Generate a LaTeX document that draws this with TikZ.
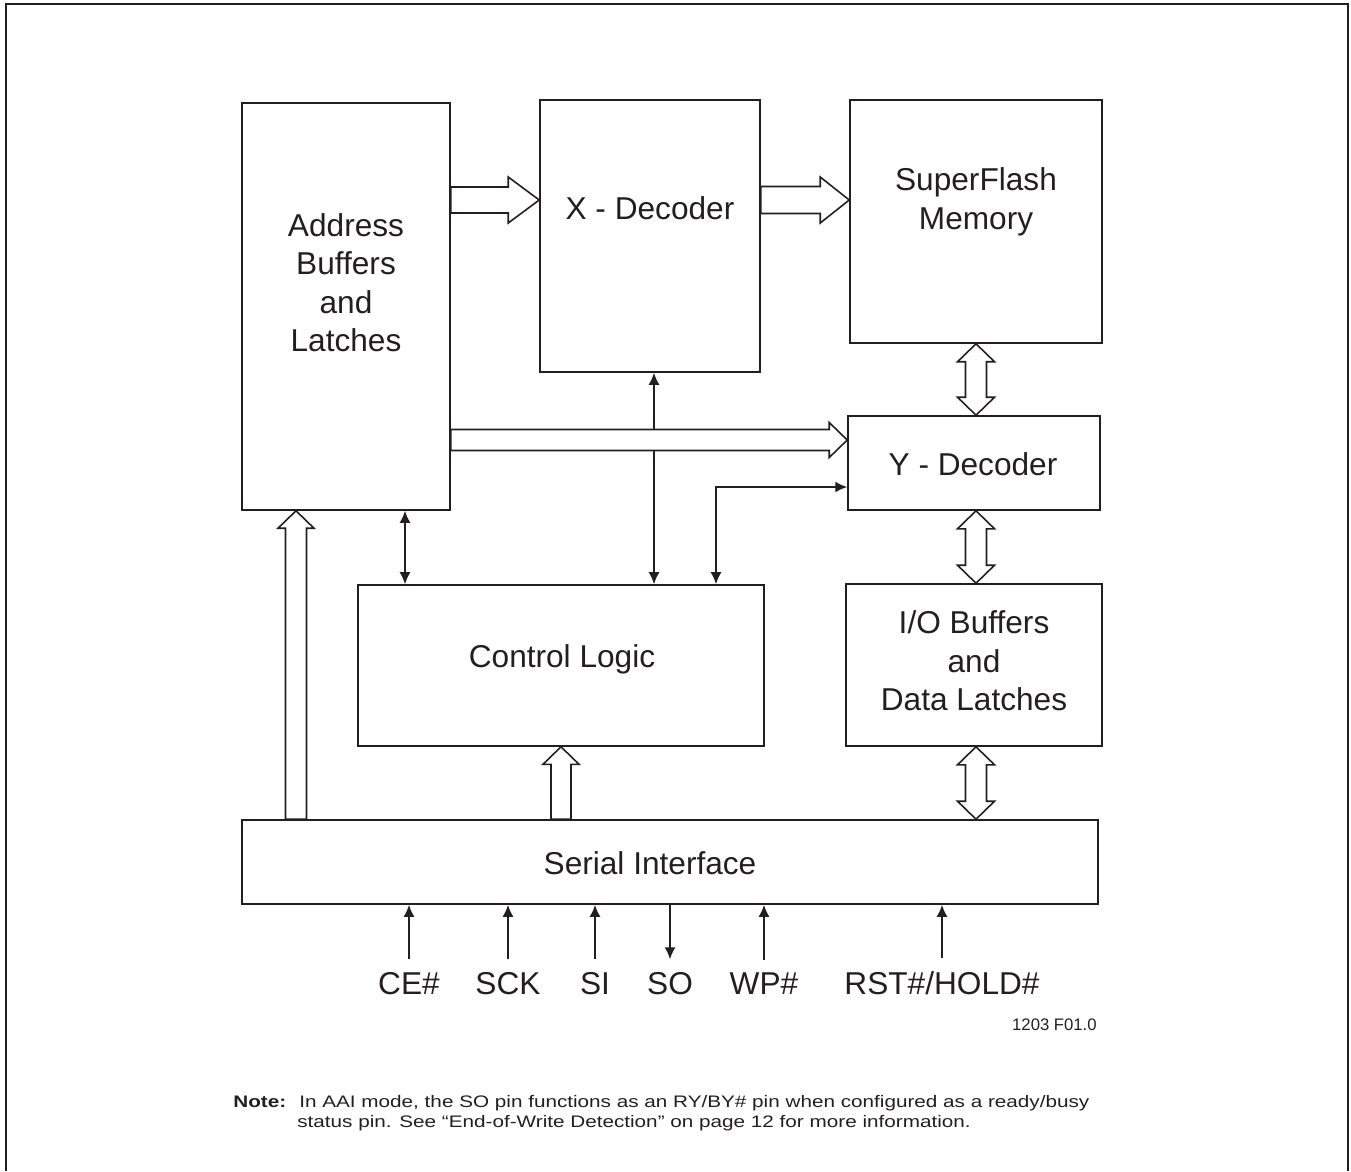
\documentclass[tikz,border=0pt]{standalone}
\usepackage{fontspec}
\setmainfont{Liberation Sans}
\newfontfamily\notefont[FakeStretch=1.24]{Liberation Sans}
\usetikzlibrary{arrows.meta,calc,positioning}
\definecolor{inkline}{RGB}{35,31,32}

% hollow bus arrow: shaft half width, head half width, head length, from, to
\newcommand{\busarrow}[5]{%
  \draw[busline] ($#4!#1!90:#5$) -- ($#5!#3!#4!#1!90:#5$) -- ($#5!#3!#4!#2!90:#5$)
    -- #5 -- ($#5!#3!#4!#2!-90:#5$) -- ($#5!#3!#4!#1!-90:#5$) -- ($#4!#1!-90:#5$) -- cycle;}
% same, with a head at both ends
\newcommand{\dbusarrow}[5]{%
  \draw[busline] #4 -- ($#4!#3!#5!#2!90:#5$) -- ($#4!#3!#5!#1!90:#5$)
    -- ($#5!#3!#4!#1!90:#5$) -- ($#5!#3!#4!#2!90:#5$) -- #5
    -- ($#5!#3!#4!#2!-90:#5$) -- ($#5!#3!#4!#1!-90:#5$)
    -- ($#4!#3!#5!#1!-90:#5$) -- ($#4!#3!#5!#2!-90:#5$) -- cycle;}

\tikzset{
  blockbox/.style={draw=inkline, line width=0.9pt, inner sep=0pt},
  blocktext/.style={font=\fontsize{18}{21.9}\selectfont, align=center, text=inkline},
  pinlabel/.style={font=\fontsize{18}{21.9}\selectfont, text=inkline, anchor=base, inner xsep=1pt, inner ysep=7pt},
  notetext/.style={font=\notefont\fontsize{9.5}{11.4}\selectfont, text=inkline, anchor=base west, inner sep=0pt},
  busline/.style={draw=inkline, fill=white, line width=0.9pt, line join=miter},
  sig/.style={draw=inkline, line width=0.9pt, -{Latex[length=0.24cm,width=0.22cm]}},
  bisig/.style={draw=inkline, line width=0.9pt, {Latex[length=0.24cm,width=0.22cm]}-{Latex[length=0.24cm,width=0.22cm]}}
}

\begin{document}
\begin{tikzpicture}[x=0.02cm, y=-0.02cm]
  \useasboundingbox (0,0) rectangle (1351,1171);
  \draw[inkline, line width=1.6pt] (6,1171) -- (6,4) -- (1348,4) -- (1348,1171);

  % blocks
  \node[blockbox, minimum width=4.16cm, minimum height=8.14cm] (addr) at (346,306.5) {};
  \node[blockbox, minimum width=4.40cm, minimum height=5.44cm] (xdec) at (650,236) {};
  \node[blockbox, minimum width=5.04cm, minimum height=4.86cm] (mem) at (976,221.5) {};
  \node[blockbox, minimum width=5.04cm, minimum height=1.88cm] (ydec) at (974,463) {};
  \node[blockbox, minimum width=5.12cm, minimum height=3.24cm] (iobuf) at (974,665) {};
  \node[blockbox, minimum width=8.12cm, minimum height=3.22cm] (ctrl) at (561,665.5) {};
  \node[blockbox, minimum width=17.12cm, minimum height=1.68cm] (serial) at (670,862) {};

  \node[blocktext] (addrtext) at (346,282.5) {Address\\Buffers\\and\\Latches};
  \node[blocktext] (xdectext) at (650,208) {X - Decoder};
  \node[blocktext] (memtext) at (976,202) {SuperFlash\\Memory};
  \node[blocktext] (ydectext) at (973,464) {Y - Decoder};
  \node[blocktext] (iotext) at (974,661) {I/O Buffers\\and\\Data Latches};
  \node[blocktext] (ctrltext) at (562,659) {Control Logic};
  \node[blocktext] (serialtext) at (650,863) {Serial Interface};

  % pins
  \node[pinlabel] (celbl) at (409,994) {CE\#};
  \node[pinlabel] (scklbl) at (508,994) {SCK};
  \node[pinlabel] (silbl) at (595,994) {SI};
  \node[pinlabel] (solbl) at (670,994) {SO};
  \node[pinlabel] (wplbl) at (764,994) {WP\#};
  \node[pinlabel] (rstlbl) at (942,994) {RST\#/HOLD\#};

  \draw[sig] (celbl.north) -- (celbl.north |- serial.south);
  \draw[sig] (scklbl.north) -- (scklbl.north |- serial.south);
  \draw[sig] (silbl.north) -- (silbl.north |- serial.south);
  \draw[sig] (solbl.north |- serial.south) -- (solbl.north);
  \draw[sig] (wplbl.north) -- (wplbl.north |- serial.south);
  \draw[sig] (rstlbl.north) -- (rstlbl.north |- serial.south);

  % control lines
  \coordinate (asig) at (405,0);
  \coordinate (xsig) at (654,0);
  \coordinate (ysig) at (716,487);
  \draw[bisig] (addr.south -| asig) -- (ctrl.north -| asig);
  \draw[bisig] (xdec.south -| xsig) -- (ctrl.north -| xsig);
  \draw[bisig] (ctrl.north -| ysig) |- (ydec.west |- ysig);

  % buses
  \coordinate (xbus) at (0,200);
  \coordinate (ybus) at (0,440);
  \coordinate (abus) at (296,0);
  \coordinate (dbus) at (976,0);
  \busarrow{0.26cm}{0.46cm}{0.62cm}{(addr.east |- xbus)}{(xdec.west |- xbus)}
  \busarrow{0.27cm}{0.46cm}{0.58cm}{(xdec.east |- xbus)}{(mem.west |- xbus)}
  \busarrow{0.21cm}{0.35cm}{0.36cm}{(addr.east |- ybus)}{(ydec.west |- ybus)}
  \busarrow{0.21cm}{0.36cm}{0.35cm}{(serial.north -| abus)}{(addr.south -| abus)}
  \busarrow{0.20cm}{0.36cm}{0.35cm}{(serial.north -| ctrl.south)}{(ctrl.south)}
  \dbusarrow{0.21cm}{0.37cm}{0.36cm}{(mem.south -| dbus)}{(ydec.north -| dbus)}
  \dbusarrow{0.21cm}{0.37cm}{0.36cm}{(ydec.south -| dbus)}{(iobuf.north -| dbus)}
  \dbusarrow{0.21cm}{0.37cm}{0.36cm}{(iobuf.south -| dbus)}{(serial.north -| dbus)}

  % figure id and note
  \node[font=\fontsize{9.5}{11.4}\selectfont, text=inkline, anchor=base east, inner sep=0pt] (figid) at (1097,1030) {1203 F01.0};
  \node[notetext] (notehead) at (233,1107) {\bfseries Note:};
  \node[notetext] (noteline1) at (299,1107) {In AAI mode, the SO pin functions as an RY/BY\# pin when configured as a ready/busy};
  \node[notetext] (noteline2) at (297,1127) {status pin. See “End-of-Write Detection” on page 12 for more information.};
\end{tikzpicture}
\end{document}
